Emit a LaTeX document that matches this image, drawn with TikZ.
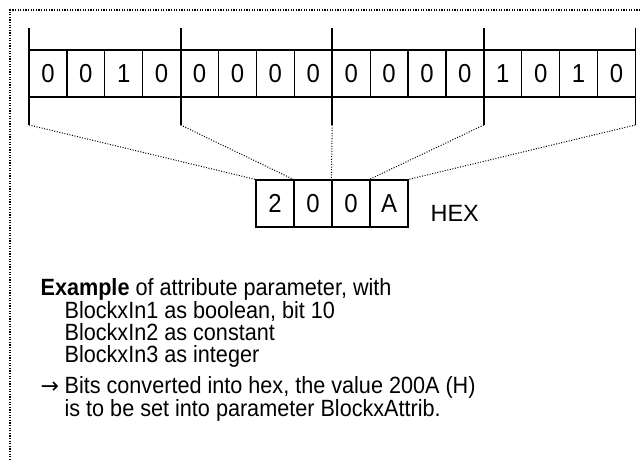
\documentclass[tikz,border=0pt]{standalone}
\usepackage{fontspec}
\setmainfont{Liberation Sans}
\newfontfamily\narrowfont[FakeStretch=0.92]{Liberation Sans}
\newfontfamily\arrowfont{DejaVu Sans}
\usetikzlibrary{positioning}

\begin{document}
\begin{tikzpicture}[x=1pt, y=-1pt, line width=1.2pt]
\tikzset{
  bitcell/.style={draw, minimum width=37.9pt, minimum height=47pt, inner sep=0pt, font=\narrowfont\fontsize{26}{26}\selectfont},
  hexcell/.style={draw, minimum width=38pt, minimum height=47pt, inner sep=0pt, font=\narrowfont\fontsize{26}{26}\selectfont},
  grouptick/.style={line width=1.8pt},
  link/.style={line width=1pt, dash pattern=on 1pt off 1.6pt},
  frame/.style={line width=1.3pt, dash pattern=on 1.3pt off 1.3pt},
  txt/.style={align=left, inner sep=0pt, font=\narrowfont\fontsize{23.5}{21.8}\selectfont}
}
\useasboundingbox (0,0) rectangle (641,460);

\draw[frame] (10,460) -- (10,10) -- (641,10);

\foreach \b [count=\i from 0] in {0,0,1,0,0,0,0,0,0,0,0,0,1,0,1,0}
  \node[bitcell] (b\i) at ({29+37.9*(\i+0.5)},73.5) {\b};

\foreach \k/\x in {0/29,1/180.6,2/332.2,3/483.8,4/635.4} {
  \coordinate (tt\k) at (\x,28);
  \coordinate (tb\k) at (\x,125);
  \draw[grouptick] (tt\k) -- (tb\k);
}

\foreach \h [count=\j from 0] in {2,0,0,A}
  \node[hexcell] (h\j) at ({256+38*(\j+0.5)},203.5) {\h};
\node[anchor=base west, inner sep=0pt, font=\fontsize{23.5}{23.5}\selectfont] (hex) at (430,221) {HEX};

\draw[link] (tb0) -- (h0.north west);
\draw[link] (tb1) -- (h1.north west);
\draw[link] (tb2) -- (h2.north west);
\draw[link] (tb3) -- (h3.north west);
\draw[link] (tb4) -- (h3.north east);

\node[txt, anchor=north west] (example) at (40,278) {\textbf{Example} of attribute parameter, with\\
\hspace*{24pt}BlockxIn1 as boolean, bit 10\\
\hspace*{24pt}BlockxIn2 as constant\\
\hspace*{24pt}BlockxIn3 as integer};
\node[txt, anchor=north west] (note) at (40,376) {\makebox[24pt][l]{\arrowfont\fontsize{22}{22}\selectfont →}Bits converted into hex, the value 200A (H)\\
\hspace*{24pt}is to be set into parameter BlockxAttrib.};
\end{tikzpicture}
\end{document}
